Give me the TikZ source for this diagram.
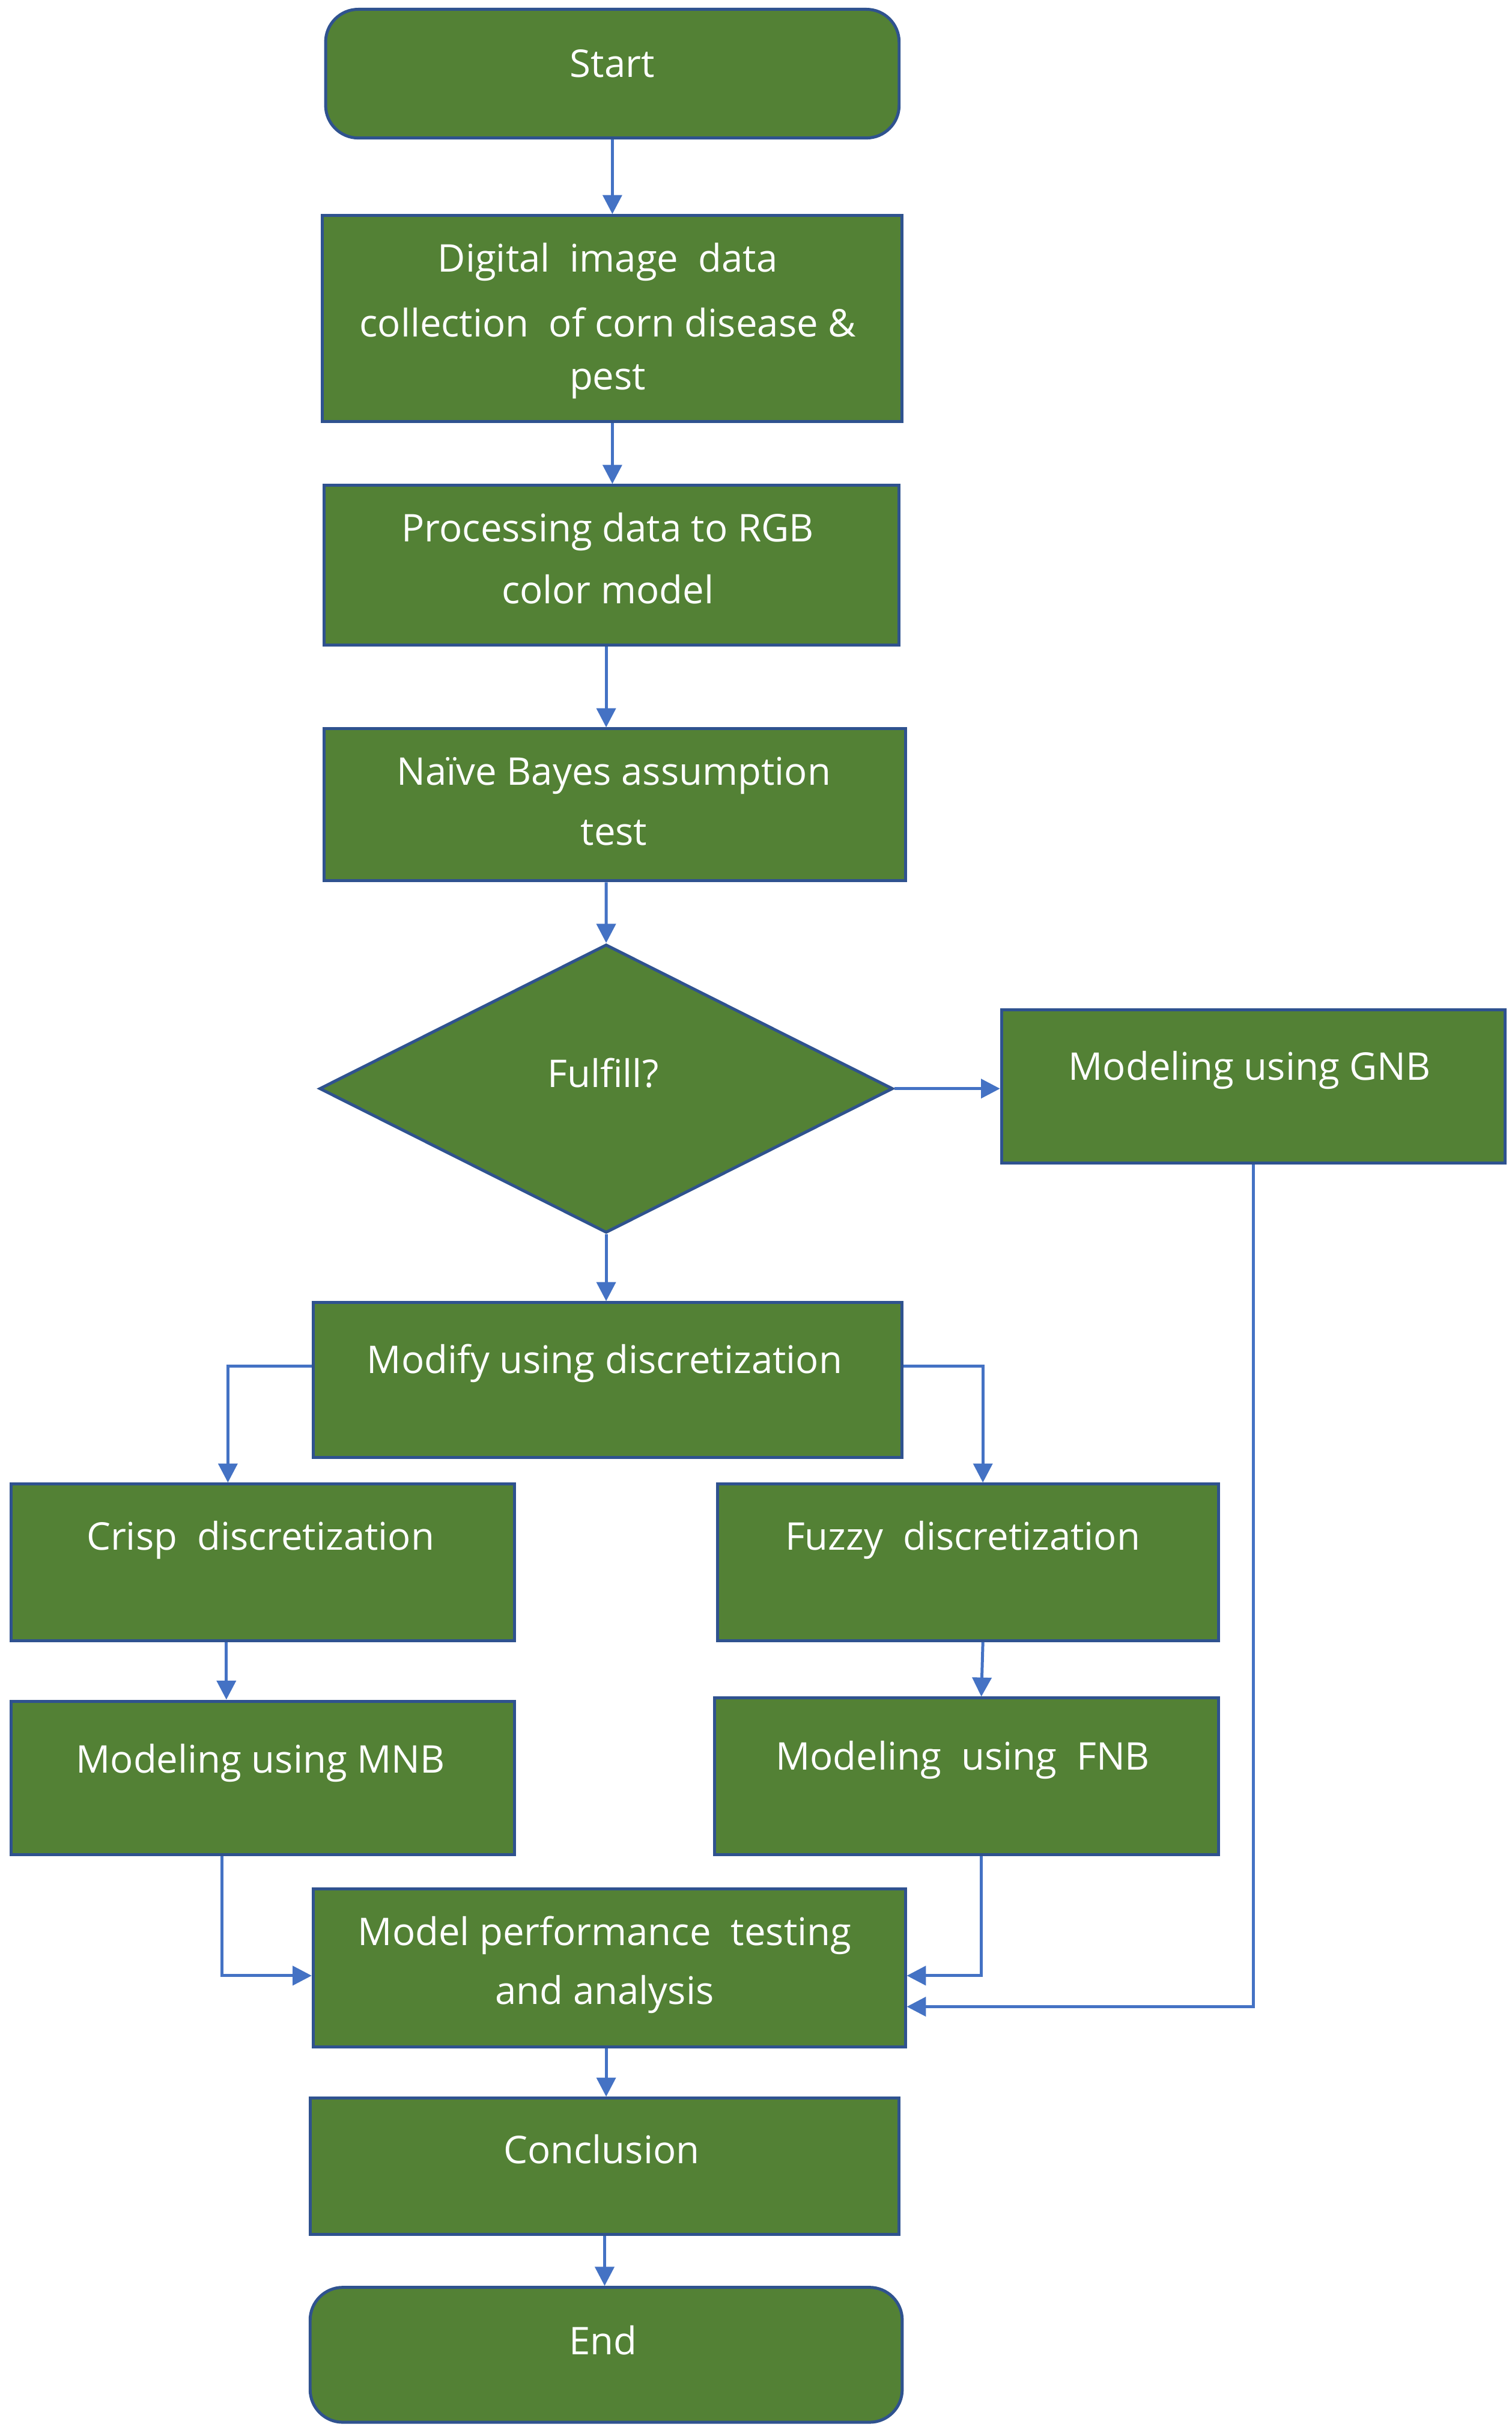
\documentclass[tikz,border=0pt]{standalone}
\usepackage{fontspec}
\setmainfont{Open Sans}
\usetikzlibrary{shapes.geometric,calc,arrows.meta}
\definecolor{grn}{HTML}{538135}
\definecolor{bord}{HTML}{2F528F}
\definecolor{arc}{HTML}{4472C4}
\begin{document}
\begin{tikzpicture}[x=0.02cm,y=-0.02cm,
 box/.style={draw=bord,fill=grn,line width=1.1pt,inner sep=0pt},
 txt/.style={text=white,font=\fontsize{14}{19}\selectfont,inner sep=0pt,align=center},
 arr/.style={draw=arc,line width=1.1pt,-{Triangle[length=7pt,width=7pt]}}]
\useasboundingbox[fill=white] (0,0) rectangle (975,1567);
\node[box,rounded corners=12pt,minimum width=7.4cm,minimum height=1.66cm] (start) at (395,47.5) {};
\node[txt] at (395,41) {Start};
\node[box,minimum width=7.48cm,minimum height=2.66cm] (dig) at (395,205.5) {};
\node[txt] at (392,169) {Digital\ \ image\ \ data};
\node[txt] at (392,208) {collection\ \ of corn disease \&};
\node[txt] at (392,246) {pest};
\node[box,minimum width=7.42cm,minimum height=2.06cm] (proc) at (394.5,364.5) {};
\node[txt] at (392,343) {Processing data to RGB};
\node[txt] at (392,380) {color model};
\node[box,minimum width=7.5cm,minimum height=1.96cm] (naive) at (396.5,519) {};
\node[txt] at (396,500) {Naïve Bayes assumption};
\node[txt] at (396,537) {test};
\node[box,diamond,minimum width=7.4cm,minimum height=3.72cm] (dia) at (391,702) {};
\node[txt] at (389,692) {Fulfill?};
\node[box,minimum width=6.5cm,minimum height=1.98cm] (gnb) at (808.5,700.5) {};
\node[txt] at (806,690) {Modeling using GNB};
\node[box,minimum width=7.6cm,minimum height=2.0cm] (mod) at (392,890) {};
\node[txt] at (390,879) {Modify using discretization};
\node[box,minimum width=6.5cm,minimum height=2.02cm] (crisp) at (169.5,1007.5) {};
\node[txt] at (168,993) {Crisp\ \ discretization};
\node[box,minimum width=6.46cm,minimum height=2.02cm] (fuzzy) at (624.5,1007.5) {};
\node[txt] at (621,993) {Fuzzy\ \ discretization};
\node[box,minimum width=6.5cm,minimum height=1.98cm] (mnb) at (169.5,1146.5) {};
\node[txt] at (168,1137) {Modeling using MNB};
\node[box,minimum width=6.5cm,minimum height=2.02cm] (fnb) at (623.5,1145.5) {};
\node[txt] at (621,1135) {Modeling\ \ using\ \ FNB};
\node[box,minimum width=7.64cm,minimum height=2.04cm] (perf) at (393,1269) {};
\node[txt] at (390,1248) {Model performance\ \ testing};
\node[txt] at (390,1286) {and analysis};
\node[box,minimum width=7.6cm,minimum height=1.76cm] (conc) at (390,1397) {};
\node[txt] at (388,1386) {Conclusion};
\node[box,rounded corners=12pt,minimum width=7.64cm,minimum height=1.74cm] (end) at (391,1518.5) {};
\node[txt] at (389,1509) {End};
% arrows
\draw[arr] (start.south) -- (start.south |- dig.north);
\draw[arr] (dig.south) -- (dig.south |- proc.north);
\draw[arr] ([xshift=-0.07cm]proc.south) -- ([xshift=-0.07cm]proc.south |- naive.north);
\draw[arr] ([xshift=-0.11cm]naive.south) -- (dia.north);
\draw[arr] (dia.east) -- (dia.east -| gnb.west);
\draw[arr] (dia.south) -- (dia.south |- mod.north);
\draw[arr] ($(mod.west)+(0,-9)$) -| ([xshift=-0.45cm]crisp.north);
\draw[arr] ($(mod.east)+(0,-9)$) -| ([xshift=0.19cm]fuzzy.north);
\draw[arr] ([xshift=-0.47cm]crisp.south) -- ([xshift=-0.47cm]mnb.north);
\draw[arr] ([xshift=0.19cm]fuzzy.south) -- ([xshift=0.19cm]fnb.north);
\draw[arr] ([xshift=-0.53cm]mnb.south) |- ($(perf.west)+(0,5)$);
\draw[arr] ([xshift=0.19cm]fnb.south) |- ($(perf.east)+(0,5)$);
\draw[arr] (gnb.south) |- ($(perf.east)+(0,25)$);
\draw[arr] ([xshift=-0.04cm]perf.south) -- ([xshift=-0.04cm]perf.south |- conc.north);
\draw[arr] (conc.south) -- (conc.south |- end.north);
\end{tikzpicture}
\end{document}
